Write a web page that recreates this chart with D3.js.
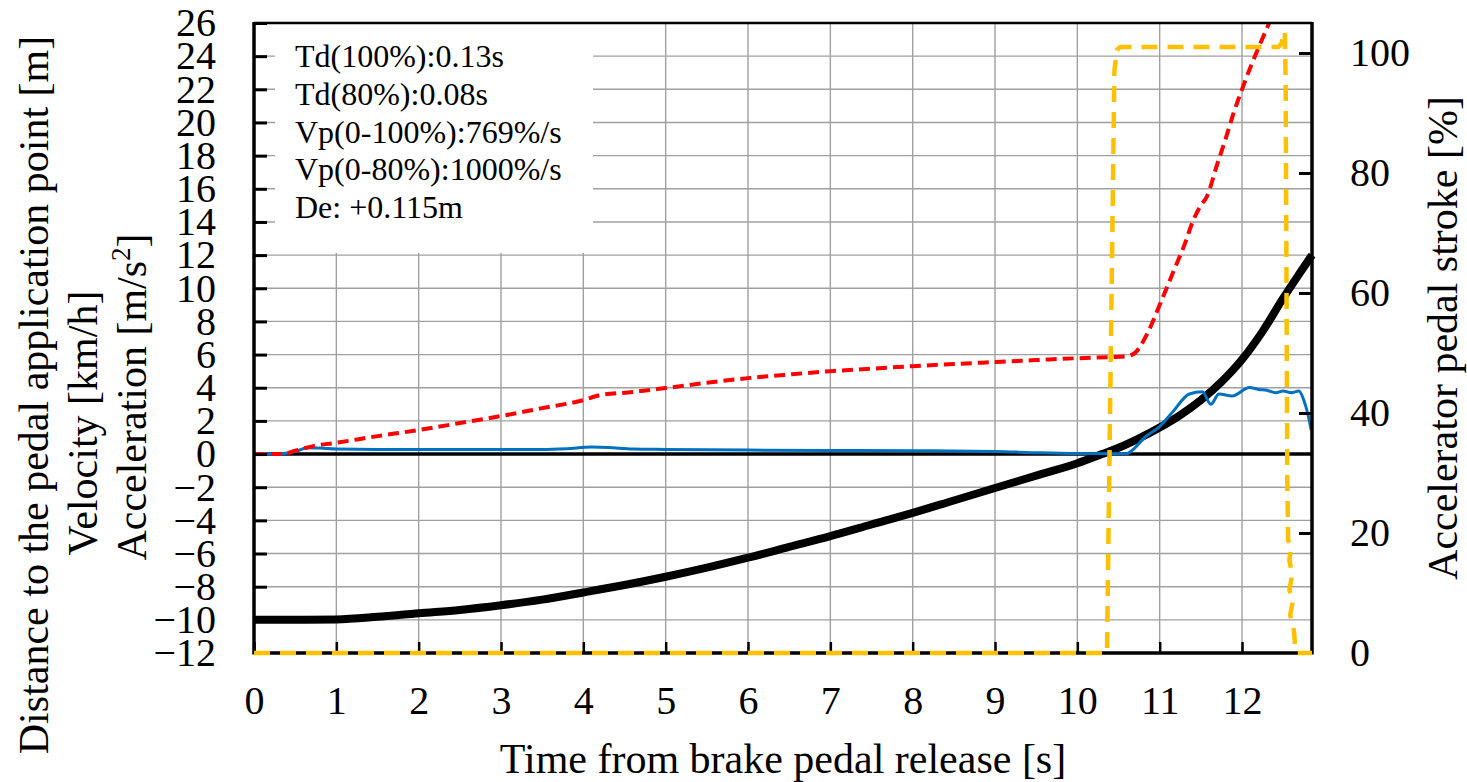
<!DOCTYPE html>
<html>
<head>
<meta charset="utf-8">
<script src="https://cdn.jsdelivr.net/npm/d3@7"></script>
<style>
  html, body { margin: 0; padding: 0; background: #fff; }
  svg { display: block; }
  text { font-family: "Liberation Serif", "Times New Roman", serif; fill: #000; }
</style>
</head>
<body>
<svg id="chart" width="1467" height="782"></svg>
<script>
// ---------- data ----------
const xTicks = [0,1,2,3,4,5,6,7,8,9,10,11,12];
const yTicks = [-12,-10,-8,-6,-4,-2,0,2,4,6,8,10,12,14,16,18,20,22,24,26];
const rTicks = [0,20,40,60,80,100];

const annotations = [
  "Td(100%):0.13s",
  "Td(80%):0.08s",
  "Vp(0-100%):769%/s",
  "Vp(0-80%):1000%/s",
  "De: +0.115m"
];

// Distance to the pedal application point [m]
const distT = [0,0.5,1,1.5,2,2.5,3,3.5,4,4.5,5,5.5,6,6.5,7,7.5,8,8.5,9,9.5,10,10.3,10.5,10.75,11,11.25,11.5,11.75,12,12.25,12.5,12.7,12.85];
const distV = [-10.0,-10.0,-9.98,-9.82,-9.6,-9.4,-9.12,-8.78,-8.35,-7.9,-7.4,-6.85,-6.25,-5.6,-4.95,-4.25,-3.55,-2.8,-2.05,-1.3,-0.55,0.0,0.38,0.95,1.6,2.35,3.25,4.35,5.7,7.4,9.4,10.9,12.0];

// Velocity [km/h]
const velT = [0,0.35,0.5,0.72,1,1.5,2,2.5,3,3.5,4,4.2,4.6,5,5.5,6,6.5,7,7.5,8,8.5,9,9.5,10,10.4,10.6,10.7,10.8,10.9,11,11.1,11.2,11.3,11.4,11.5,11.57,11.7,11.8,11.9,12.0,12.1,12.2,12.33];
const velV = [0,0,0.2,0.48,0.68,1.08,1.45,1.87,2.29,2.77,3.25,3.55,3.74,3.98,4.3,4.58,4.8,5.0,5.15,5.3,5.43,5.55,5.67,5.78,5.85,5.9,6.1,6.8,7.8,9.0,10.2,11.4,12.6,14.0,15.0,15.5,17.5,19.0,20.6,22.0,23.3,24.5,26.0];

// Acceleration [m/s^2]
const accT = [0,0.3,0.5,0.65,0.8,1,1.5,2,3,3.5,3.8,4.1,4.3,4.6,5,6,7,8,9,9.5,10,10.6,10.66,10.83,11,11.16,11.36,11.52,11.62,11.72,11.88,12.09,12.2,12.3,12.41,12.5,12.6,12.69,12.75,12.8,12.84];
const accV = [0,0,0.15,0.38,0.36,0.3,0.28,0.27,0.28,0.27,0.32,0.42,0.4,0.3,0.28,0.24,0.22,0.2,0.16,0.08,0.03,0.02,0.2,1.05,1.66,2.55,3.62,3.76,3.0,3.62,3.5,4.02,3.9,3.85,3.7,3.8,3.7,3.8,3.26,2.4,1.45];

// Accelerator pedal stroke [%] (right axis)
const accelPedalT = [0,10.36,10.45,10.48,10.52,12.44,12.48,12.5,12.52,12.53,12.55,12.56,12.6,12.575,12.61,12.575,12.62,12.585,12.63,12.645,12.67,12.85];
const accelPedalV = [0,0,97,100.5,101,101,101.5,103.5,103.5,95,28.8,18.8,18,15.5,13,10.5,8.8,6.3,3.8,1.3,0,0];

// ---------- layout ----------
const svg = d3.select("#chart");
const L = 254, R = 1312, T = 23, B = 653;
const x = d3.scaleLinear().domain([0, 12.85]).range([L, R]);
const y = d3.scaleLinear().domain([-12, 26]).range([B, T]);
const yr = d3.scaleLinear().domain([0, 105]).range([B, T]);

const FONT_TICK = 40, FONT_TITLE = 42, FONT_NOTE = 32;

// grid
const grid = svg.append("g").attr("stroke", "#a0a0a0").attr("stroke-width", 1.4);
grid.selectAll("line.v").data(xTicks.filter(d => d > 0)).join("line")
  .attr("x1", d => x(d)).attr("x2", d => x(d)).attr("y1", T).attr("y2", B);
grid.selectAll("line.h").data(yTicks.filter(d => d !== 0 && d > -12 && d < 26)).join("line")
  .attr("x1", L).attr("x2", R).attr("y1", d => y(d)).attr("y2", d => y(d));

// white annotation box
svg.append("rect").attr("x", 275).attr("y", T + 1).attr("width", 318).attr("height", 229).attr("fill", "#fff");

// annotation text
svg.append("g").selectAll("text").data(annotations).join("text")
  .attr("x", 295).attr("y", (d, i) => 67 + i * 37.8)
  .attr("font-size", FONT_NOTE).text(d => d);

// zero line
svg.append("line").attr("x1", L).attr("x2", R).attr("y1", y(0)).attr("y2", y(0))
  .attr("stroke", "#000").attr("stroke-width", 3.5);

const line = (xs, vs, ys, curve) => d3.line().curve(curve || d3.curveLinear)
  .x((d, i) => x(xs[i])).y((d, i) => ys(vs[i]))(vs);

// distance (black thick)
svg.append("path").attr("d", line(distT, distV, y, d3.curveMonotoneX))
  .attr("fill", "none").attr("stroke", "#000").attr("stroke-width", 8).attr("stroke-linejoin", "round");

// acceleration (blue)
svg.append("path").attr("d", line(accT, accV, y, d3.curveMonotoneX))
  .attr("fill", "none").attr("stroke", "#0070C0").attr("stroke-width", 3).attr("stroke-linejoin", "round");

// velocity (red dashed)
svg.append("path").attr("d", line(velT, velV, y, d3.curveMonotoneX))
  .attr("fill", "none").attr("stroke", "#FF0000").attr("stroke-width", 4)
  .attr("stroke-dasharray", "11,6");

// axes
const gB = svg.append("g").attr("transform", `translate(0,${B})`)
  .call(d3.axisBottom(x).tickValues(xTicks).tickSize(-11).tickPadding(0).tickFormat(d3.format("d")));
gB.select(".domain").remove();
gB.selectAll(".tick line").attr("stroke", "#000").attr("stroke-width", 2.5);
gB.selectAll(".tick text").attr("y", 47).attr("dy", "0.35em").attr("font-size", FONT_TICK)
  .attr("font-family", "Liberation Serif, Times New Roman, serif").attr("fill", "#000");

const gL = svg.append("g").attr("transform", `translate(${L},0)`)
  .call(d3.axisLeft(y).tickValues(yTicks).tickSize(-13).tickPadding(38).tickFormat(d3.format("d")));
gL.select(".domain").remove();
gL.selectAll(".tick line").attr("stroke", "#000").attr("stroke-width", 3);
gL.selectAll(".tick text").attr("font-size", FONT_TICK)
  .attr("font-family", "Liberation Serif, Times New Roman, serif").attr("fill", "#000");

const gR = svg.append("g").attr("transform", `translate(${R},0)`)
  .call(d3.axisRight(yr).tickValues(rTicks).tickSize(-13).tickPadding(38).tickFormat(d3.format("d")));
gR.select(".domain").remove();
gR.selectAll(".tick line").attr("stroke", "#000").attr("stroke-width", 3);
gR.selectAll(".tick text").attr("font-size", FONT_TICK)
  .attr("font-family", "Liberation Serif, Times New Roman, serif").attr("fill", "#000");

// frame
svg.append("line").attr("x1", L).attr("x2", R).attr("y1", T).attr("y2", T).attr("stroke", "#000").attr("stroke-width", 2.5);
svg.append("line").attr("x1", L).attr("x2", L).attr("y1", T - 1).attr("y2", B + 1.5).attr("stroke", "#000").attr("stroke-width", 3.5);
svg.append("line").attr("x1", R).attr("x2", R).attr("y1", T - 1).attr("y2", B + 1.5).attr("stroke", "#000").attr("stroke-width", 3.5);
svg.append("line").attr("x1", L).attr("x2", R).attr("y1", B).attr("y2", B).attr("stroke", "#000").attr("stroke-width", 3.5);

// accelerator pedal stroke (orange dashed) drawn over the frame, as in the reference
svg.append("path").attr("d", line(accelPedalT, accelPedalV, yr))
  .attr("fill", "none").attr("stroke", "#FFC000").attr("stroke-width", 4.5)
  .attr("stroke-dasharray", "16,10").attr("stroke-linejoin", "round");

// titles
svg.append("text").attr("x", (L + R) / 2).attr("y", 773).attr("text-anchor", "middle")
  .attr("font-size", FONT_TITLE).text("Time from brake pedal release [s]");

svg.append("text").attr("transform", "translate(48,395) rotate(-90)").attr("text-anchor", "middle")
  .attr("font-size", FONT_TITLE).text("Distance to the pedal application point [m]");
svg.append("text").attr("transform", "translate(97,423) rotate(-90)").attr("text-anchor", "middle")
  .attr("font-size", FONT_TITLE).text("Velocity [km/h]");
const acc = svg.append("text").attr("transform", "translate(146,397) rotate(-90)").attr("text-anchor", "middle")
  .attr("font-size", FONT_TITLE);
acc.append("tspan").text("Acceleration [m/s");
acc.append("tspan").attr("font-size", 27).attr("dy", -16).text("2");
acc.append("tspan").attr("dy", 16).text("]");

svg.append("text").attr("transform", "translate(1457,338) rotate(-90)").attr("text-anchor", "middle")
  .attr("font-size", FONT_TITLE).text("Accelerator pedal stroke [%]");
</script>
</body>
</html>
